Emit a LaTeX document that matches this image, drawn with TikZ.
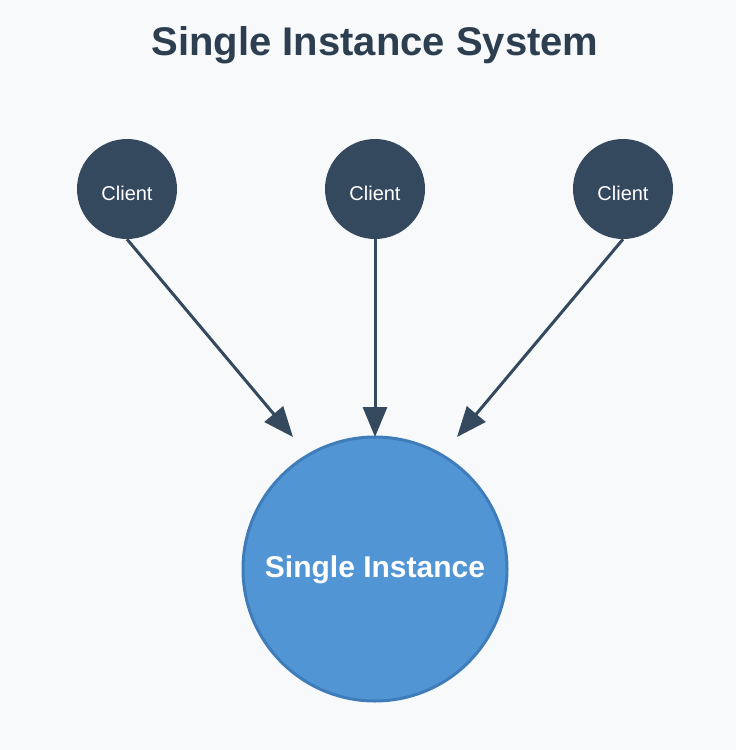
\documentclass[tikz,border=0pt]{standalone}
\usepackage{fontspec}
\setmainfont{Liberation Sans}
\usetikzlibrary{arrows.meta}
\definecolor{bg}{HTML}{F7F9FB}
\definecolor{titlec}{HTML}{2C3E50}
\definecolor{clientc}{HTML}{34495E}
\definecolor{instfill}{HTML}{5295D5}
\definecolor{instdraw}{HTML}{3F7DBA}
\tikzset{
  client/.style={circle, fill=clientc, minimum size=100pt, inner sep=0pt, text=white, font=\fontsize{20}{22}\selectfont},
  inst/.style={circle, fill=instfill, draw=instdraw, line width=3pt, minimum size=264pt, inner sep=0pt, text=white, font=\bfseries\fontsize{30}{34}\selectfont},
  conn/.style={draw=clientc, line width=3pt, -{Triangle[length=30pt,width=24pt]}},
  titlestyle/.style={text=titlec, font=\bfseries\fontsize{40}{44}\selectfont}
}
\begin{document}
\begin{tikzpicture}[x=1pt,y=-1pt]
\fill[bg] (0,0) rectangle (736,750);
\useasboundingbox (0,0) rectangle (736,750);
\node[titlestyle] (title) at (375,45) {Single Instance System};
\node[client] (c1) at (127,189) {};
\node[client] (c2) at (375,189) {};
\node[client] (c3) at (623,189) {};
\node[text=white, font=\fontsize{20}{22}\selectfont] (t1) at (127,193) {Client};
\node[text=white, font=\fontsize{20}{22}\selectfont] (t2) at (375,193) {Client};
\node[text=white, font=\fontsize{20}{22}\selectfont] (t3) at (623,193) {Client};
\node[inst] (si) at (375,569) {};
\node[text=white, font=\bfseries\fontsize{30}{34}\selectfont] (st) at (375,570) {Single Instance};
\coordinate (e1) at (293,437);
\coordinate (e2) at (375,437);
\coordinate (e3) at (457,437);
\draw[conn] (c1.south) -- (e1);
\draw[conn] (c2.south) -- (e2);
\draw[conn] (c3.south) -- (e3);
\end{tikzpicture}
\end{document}
